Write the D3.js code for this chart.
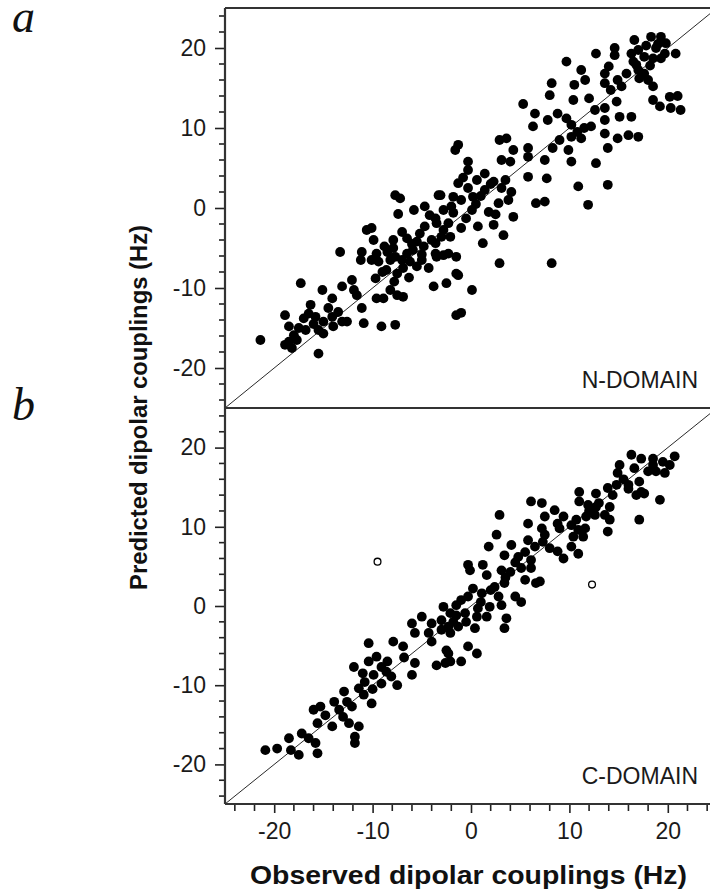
<!DOCTYPE html>
<html>
<head>
<meta charset="utf-8">
<script src="https://cdn.jsdelivr.net/npm/d3@7"></script>
<style>
  html, body { margin: 0; padding: 0; background: #fff; }
  svg { display: block; }
</style>
</head>
<body>
<div id="chart"></div>
<script>
// N-domain: observed vs predicted dipolar couplings (Hz)
const nObs = [
  -7.7,-7.2,-3.1,-1.8,-5.8,-4.7,-4.2,-7.4,-2.8,-1.8,-10.6,-10.1,-9.9,-7,-5.2,-4.7,-3.5,-2.8,-2.1,-7.9,
  -7.9,-5.5,-5.9,-4.8,-3.6,-13.3,-11.1,-11.2,-9.6,-9.4,-10.1,-8.2,-7.7,-6.5,-6.2,-6.9,-8.6,-7.5,-5.5,-4.3,
  -3.5,-2.8,-1.5,-3.8,-2.5,-1.5,-17.3,-15.1,-14.1,-13.1,-12.1,-11.9,-11.6,-9.7,-9.6,-8.9,-8.2,-7.5,-6.9,-16.3,
  -16.5,-18.9,-17,-15.8,-15,-14.1,-14,-13.1,-12.6,-11.1,-10.9,-9.1,-7.7,-1.5,-1,-18.5,-18,-18.5,-17.7,-16.8,
  -15.5,-15,-21.4,-18.9,-18.2,-15.5,
  -8.5,-7,-6,-5,-8.8,-6.5,-9,-7.8,-6.3,-5,-16,-14.5,-13.5,-17.5,
  5.3,6.5,6.3,3.6,2.9,4.3,5.8,5.8,3.1,4,-1.3,-1.6,-0.3,-0.3,1.4,0.6,-1.3,2.3,3.1,4.1,
  5.8,-3.3,-0.3,0.2,1.4,2.8,3.8,6.6,-2,-1,0.1,1.8,4.3,-3.6,-2.3,-1,0.7,2.3,3.3,1.2,
  -4,-3,-3.6,-2.3,-1.3,0.1,2.9,8.2,9.7,10.2,
  1,2,0.5,-0.8,3.5,2.5,-0.5,
  18.3,19.3,16.6,18.8,19.7,20.8,14.6,14.6,12.7,16.3,17,16.5,17.6,18.5,19.3,9.7,14,11.2,13.6,17,
  17.6,17.1,18,11.6,10.5,13.6,14.9,15.3,14.2,18.5,8.2,8,12,10.4,14.8,18.5,19.2,20.2,21,20.3,
  21.3,12.6,13.6,15.1,16.3,13.6,8.8,7.8,12.2,13.6,14.9,16,17,10.2,11.2,9,8.3,9.9,13.9,7.5,
  10.2,12.7,7.7,10.9,13.9,7.5,11.9,
  19,17.8,18.2,16.8,19.8,15.8,11.5,10.8
];
const nPred = [
  1.6,1.2,1.6,1.4,-0.25,0.2,-0.9,-0.75,-0.25,-0.6,-2.75,-2.5,-4,-3,-3.2,-2.3,-1.9,-2.75,-3.6,-4,
  -5,-4.2,-5.25,-4.8,-4.4,-5.5,-5.5,-6.5,-5.7,-6.7,-6.5,-6.5,-6.1,-5.7,-6.7,-7.5,-7.75,-8.2,-7.3,-7.5,
  -6.1,-5.9,-6.1,-9.8,-9.4,-8.2,-9.4,-10.25,-11.3,-9.8,-9,-10.25,-10.9,-8.8,-11.3,-11.3,-10.25,-10.9,-11.1,-12.1,
  -13.2,-13.4,-13.8,-13.6,-14.2,-13.6,-14.8,-14.2,-14.2,-12.5,-14.4,-14.8,-14.6,-13.4,-13.1,-14.8,-15.9,-16.7,-16.5,-15.25,
  -15.25,-15.7,-16.5,-17.1,-17.5,-18.2,
  -5.5,-6.5,-4.5,-5.8,-4.8,-3.8,-8,-9.2,-8.7,-6.5,-14.5,-12.5,-13,-15,
  13,11.8,10.2,8.7,8.5,7.25,7.5,6.4,6,5.8,7.9,7.25,5.8,4.75,4.3,3.5,3.1,3.3,2.5,2,
  3.9,1.6,2.5,1.4,2.25,0.6,1,0.6,0.2,1,-0.25,-0.5,-1.1,-1.3,-1.9,-2.5,-2.3,-2.1,-3.4,-4.4,
  -4,-3.6,-5.7,-5.7,-8.4,-10.25,-6.9,-6.9,11.2,10.4,
  1.5,3,0.5,3.8,3.5,-0.8,-1.3,
  21.4,21.4,21,20,19.3,19.3,20,19.1,19.3,19.3,19.75,18.3,18.9,18.7,18.7,18.3,17.7,17.25,16.8,17.25,
  16.8,16.2,16,16,15.4,15.6,16,15.2,14.75,15.2,15.6,14.1,13.7,13.5,13.3,13.5,12.7,13.9,14,12.5,
  12.25,12.25,12.5,11.4,11.4,11,11.8,11,10.2,9.3,8.7,9.1,8.9,8.9,8.7,8.5,7.5,7.25,7.5,6,
  5.8,5.6,3.7,2.7,2.9,0.8,0.4,
  20.5,20.3,17.8,17.9,20.6,16.8,10,9.5
];

// C-domain: observed vs predicted dipolar couplings (Hz)
const cObs = [
  -20.9,-19.7,-18.5,-18.3,-17.5,-17.2,-16.5,-15.8,-15.6,-16,-15.3,-15.6,-14.8,-14.1,-13.9,-13.4,-12.9,-12.6,-12.1,-12.4,
  -11.4,-11.8,-11.8,-11.9,-11.4,-10.8,-10.9,-10.1,-10.4,-9.6,-9.1,-9.9,-9.1,-8.6,-8.1,-7.5,-10.4,-7.9,-6.9,-6,
  -5.7,-5,-4.3,-5.7,-6,-3.5,-2.6,-2.5,-4,-3,-2.3,
  -8.5,-10,-11,-13,-6.8,-4,-3,-1.5,-0.5,
  2.9,6.1,5.8,2.6,1.8,4.1,5.8,3.4,4.8,6.1,-0.3,-0.1,1.2,1.6,3.1,4,5.1,6.1,5.5,6.6,
  3.4,2.4,0.2,-0.3,1.1,2.8,4.5,5.1,3.1,1.9,0.7,-1,-1.5,-2.8,-2.1,-0.6,0.6,1.6,3.6,3.4,
  -1.8,-1.3,0.4,-2.1,-2.3,-2.1,-1,-0.3,0.6,
  1,2,3.5,4.5,5.5,6.5,7.5,
  16.3,17.3,18.5,20.7,20.2,19.7,18,18.8,15.1,14.9,16.6,16,17.1,17.3,16.8,17.6,19.2,14.8,13.9,14.4,
  12.7,11,11,11.9,12.7,14.1,13.6,12.6,11.7,14.1,17.1,13.9,10.7,10.2,10.9,11.6,10.4,11.4,7.2,8.5,
  7.5,9.4,8.8,7.2,9,7.3,8,8.8,9.4,10.2,10.9,7,
  12,13,15.5,16,18.5,19.5
];
const cPred = [
  -18.2,-18,-16.7,-18.2,-18.8,-16.1,-16.7,-17.3,-18.6,-13.1,-12.7,-14.8,-13.8,-15.2,-12.1,-13.1,-10.8,-12.1,-12.7,-14.8,
  -15.2,-16.5,-17.3,-7.7,-10.4,-9.6,-11.2,-12.3,-7,-6.4,-7.7,-8.7,-9.8,-8.3,-8.9,-10,-4.7,-4.5,-5.1,-2.2,
  -3.4,-1.35,-3.4,-7.2,-8.7,-7.5,-7.2,-5.6,-2.2,-1.8,-2.6,
  -7,-10.5,-8.5,-14,-6.5,-4.5,-3,-1.2,-2,
  11.5,13.2,10.4,9,7.5,7.7,8.3,6.4,6.2,5.8,5.2,4.5,5.2,3.9,4.5,4.3,4.8,4.8,3.3,2.9,
  2.9,2.4,2.2,1.2,1.6,1.2,1.2,0.5,0.1,-0.1,-0.3,0.75,0.1,-0.1,-0.9,-0.9,-1.35,-1.35,-1.55,-2.8,
  -2,-2.6,-2.8,-3.4,-6,-7,-7,-5.1,-6,
  0.5,2,3.6,5.5,6.8,7.5,9,
  19.1,18.6,18.6,18.9,17.8,16.8,17,17,17.8,16.8,17.4,15.3,15.7,14.4,14,14.2,13.4,15.3,14.9,14,
  14.2,14.4,13.2,12.75,12.5,12.5,11.5,11.5,11.3,10.9,10.9,9.4,10.9,10.2,9.6,9.8,8.75,8.75,13,12.1,
  11.3,11.3,10.4,9.8,9.8,8.1,7.3,6.9,6,7.5,6.6,3.1,
  12,13,16,14.8,17.8,18.2
];

// C-domain couplings drawn as open circles
const cOutObs = [-9.5, 12.3];
const cOutPred = [5.6, 2.7];

const majorTicks = [-20, -10, 0, 10, 20];
const tickLabels = ["-20", "-10", "0", "10", "20"];
const minorTicks = d3.range(-24, 25, 2).filter(v => v % 10 !== 0);
const panelNames = ["N-DOMAIN", "C-DOMAIN"];
const panelLetters = ["a", "b"];
const xTitle = "Observed dipolar couplings (Hz)";
const yTitle = "Predicted dipolar couplings (Hz)";

const W = 710, H = 892;
const left = 225, right = 717;
const sans = "'Liberation Sans', Arial, sans-serif";
const serif = "'Liberation Serif', 'Times New Roman', serif";
const svg = d3.select("#chart").append("svg").attr("width", W).attr("height", H);

const x = d3.scaleLinear().domain([-25, 25]).range([left, right]);
const panels = [
  { y: d3.scaleLinear().domain([-25, 25]).range([408, 8]), obs: nObs, pred: nPred, name: panelNames[0], letter: panelLetters[0], letterY: 32 },
  { y: d3.scaleLinear().domain([-25, 25]).range([804, 408]), obs: cObs, pred: cPred, name: panelNames[1], letter: panelLetters[1], letterY: 420 }
];

const ink = "#222";

panels.forEach((p) => {
  const g = svg.append("g");
  const top = p.y.range()[1], bottom = p.y.range()[0];

  // y = x reference line
  g.append("line")
    .attr("x1", x(-25)).attr("y1", p.y(-25))
    .attr("x2", x(25)).attr("y2", p.y(25))
    .attr("stroke", "#111").attr("stroke-width", 0.9);

  // filled markers
  g.append("g").selectAll("circle")
    .data(p.obs.map((v, k) => [v, p.pred[k]]))
    .join("circle")
    .attr("cx", d => x(d[0])).attr("cy", d => p.y(d[1]))
    .attr("r", 4.9).attr("fill", "#000");

  // y axis: major ticks with labels, minor ticks every 2 Hz
  const yAxis = d3.axisLeft(p.y).tickValues(majorTicks)
    .tickFormat((d, k) => tickLabels[k]).tickSize(10).tickPadding(9);
  const ya = g.append("g").attr("transform", `translate(${left},0)`).call(yAxis);
  ya.select(".domain").remove();
  ya.selectAll(".tick line").attr("stroke", ink).attr("stroke-width", 1.6);
  ya.selectAll(".tick text").attr("fill", "#1a1a1a")
    .style("font-size", "23px").style("font-family", sans);
  g.append("g").selectAll("line").data(minorTicks).join("line")
    .attr("x1", left - 6).attr("x2", left)
    .attr("y1", d => p.y(d)).attr("y2", d => p.y(d))
    .attr("stroke", ink).attr("stroke-width", 1.6);

  // top frame of panel
  g.append("line").attr("x1", left).attr("x2", W)
    .attr("y1", top).attr("y2", top)
    .attr("stroke", "#333").attr("stroke-width", 2.2);

  // domain name
  g.append("text").attr("x", 698).attr("y", bottom - 20)
    .attr("text-anchor", "end").attr("fill", "#1a1a1a")
    .style("font-family", sans).style("font-size", "23px").text(p.name);

  // panel letter
  g.append("text").attr("x", 12).attr("y", p.letterY)
    .attr("fill", "#111")
    .style("font-family", serif).style("font-style", "italic").style("font-size", "46px")
    .text(p.letter);
});

// open markers in C-domain
const pb = panels[1];
svg.append("g").selectAll("circle")
  .data(cOutObs.map((v, k) => [v, cOutPred[k]]))
  .join("circle")
  .attr("cx", d => x(d[0])).attr("cy", d => pb.y(d[1]))
  .attr("r", 3.4).attr("fill", "#fff").attr("stroke", "#000").attr("stroke-width", 1.3);

// left axis line spanning both panels
svg.append("line").attr("x1", left).attr("x2", left).attr("y1", 8).attr("y2", 804)
  .attr("stroke", "#333").attr("stroke-width", 2.2);

// bottom x axis
const xAxis = d3.axisBottom(x).tickValues(majorTicks)
  .tickFormat((d, k) => tickLabels[k]).tickSize(9).tickPadding(10);
const xa = svg.append("g").attr("transform", "translate(0,804)").call(xAxis);
xa.select(".domain").remove();
xa.selectAll(".tick line").attr("stroke", ink).attr("stroke-width", 1.6);
xa.selectAll(".tick text").attr("fill", "#1a1a1a")
  .style("font-size", "23px").style("font-family", sans);
svg.append("g").selectAll("line").data(minorTicks).join("line")
  .attr("x1", d => x(d)).attr("x2", d => x(d))
  .attr("y1", 804).attr("y2", 811)
  .attr("stroke", ink).attr("stroke-width", 1.6);
svg.append("line").attr("x1", left).attr("x2", W).attr("y1", 804).attr("y2", 804)
  .attr("stroke", "#333").attr("stroke-width", 2.2);

// axis titles
svg.append("text").attr("x", 250).attr("y", 884)
  .attr("fill", "#111")
  .attr("textLength", 437).attr("lengthAdjust", "spacingAndGlyphs")
  .style("font-family", sans).style("font-weight", "bold").style("font-size", "25px")
  .text(xTitle);
svg.append("text")
  .attr("transform", "translate(147,407.5) rotate(-90)")
  .attr("text-anchor", "middle").attr("fill", "#111")
  .attr("textLength", 365).attr("lengthAdjust", "spacingAndGlyphs")
  .style("font-family", sans).style("font-weight", "bold").style("font-size", "24px")
  .text(yTitle);
</script>
</body>
</html>
